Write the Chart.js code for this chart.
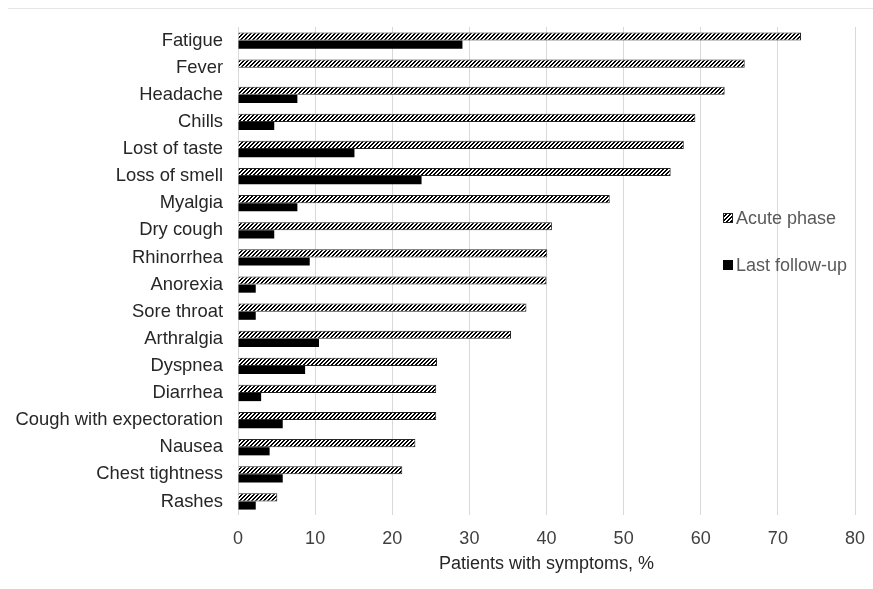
<!DOCTYPE html>
<html>
<head>
<meta charset="utf-8">
<script src="https://cdn.jsdelivr.net/npm/chart.js@4.4.1/dist/chart.umd.min.js"></script>
<style>
  html, body { margin: 0; padding: 0; background: #fff; }
  #wrap { position: relative; width: 873px; height: 589px; }
  #topline { position: absolute; left: 8px; right: 0; top: 8px; height: 0; border-top: 1px solid #e6e6e6; }
  canvas { position: absolute; left: 0; top: 0; }
</style>
</head>
<body>
<div id="wrap">
  <div id="topline"></div>
  <canvas id="c" width="873" height="589"></canvas>
</div>
<script>
const categories = ["Fatigue", "Fever", "Headache", "Chills", "Lost of taste", "Loss of smell",
  "Myalgia", "Dry cough", "Rhinorrhea", "Anorexia", "Sore throat", "Arthralgia",
  "Dyspnea", "Diarrhea", "Cough with expectoration", "Nausea", "Chest tightness", "Rashes"];
const acutePhase = [73.0, 65.7, 63.1, 59.3, 57.8, 56.1, 48.2, 40.7, 40.1, 40.0, 37.4, 35.4,
  25.8, 25.7, 25.7, 23.0, 21.3, 5.1];
const lastFollowUp = [29.1, 0, 7.7, 4.7, 15.1, 23.8, 7.7, 4.7, 9.3, 2.3, 2.3, 10.5,
  8.7, 3.0, 5.8, 4.1, 5.8, 2.3];
const seriesNames = ["Acute phase", "Last follow-up"];
const xTicks = [0, 10, 20, 30, 40, 50, 60, 70, 80];
const xTitle = "Patients with symptoms, %";

const FONT = "'Liberation Sans', Arial, sans-serif";

function makeHatch() {
  const t = document.createElement('canvas');
  t.width = 4; t.height = 4;
  const g = t.getContext('2d');
  g.fillStyle = '#ffffff';
  g.fillRect(0, 0, 4, 4);
  g.fillStyle = '#000000';
  for (let y = 0; y < 4; y++) {
    const a = (3 - y + 4) % 4;
    const b = (4 - y) % 4;
    g.fillRect(a, y, 1, 1);
    g.fillRect(b, y, 1, 1);
  }
  return g.createPattern(t, 'repeat');
}
const hatch = makeHatch();

const legendPlugin = {
  id: 'customLegend',
  afterDraw(chart) {
    const ctx = chart.ctx;
    const items = [
      { label: seriesNames[0], fill: hatch, stroke: '#222' },
      { label: seriesNames[1], fill: '#000', stroke: '#000' }
    ];
    const x0 = 723, ys = [218, 265];
    ctx.save();
    ctx.font = "18px " + FONT;
    ctx.textBaseline = 'middle';
    ctx.textAlign = 'left';
    items.forEach((it, i) => {
      const y = ys[i];
      ctx.fillStyle = it.fill;
      ctx.fillRect(x0, y - 5, 10, 10);
      ctx.strokeStyle = it.stroke;
      ctx.lineWidth = 1;
      ctx.strokeRect(x0 + 0.5, y - 4.5, 9, 9);
      ctx.fillStyle = '#595959';
      ctx.fillText(it.label, x0 + 13, y + 1);
    });
    ctx.restore();
  }
};

new Chart(document.getElementById('c'), {
  type: 'bar',
  data: {
    labels: categories,
    datasets: [
      {
        label: seriesNames[0],
        data: acutePhase,
        backgroundColor: hatch,
        borderColor: '#262626',
        borderWidth: 1,
        categoryPercentage: 0.6,
        barPercentage: 1.0
      },
      {
        label: seriesNames[1],
        data: lastFollowUp,
        backgroundColor: '#000000',
        borderColor: '#000000',
        borderWidth: 0,
        categoryPercentage: 0.6,
        barPercentage: 1.0
      }
    ]
  },
  options: {
    indexAxis: 'y',
    responsive: false,
    animation: false,
    layout: { padding: { left: 0, right: 18, top: 27, bottom: 0 } },
    plugins: {
      legend: { display: false },
      tooltip: { enabled: false }
    },
    scales: {
      x: {
        type: 'linear',
        min: xTicks[0],
        max: xTicks[xTicks.length - 1],
        afterBuildTicks(scale) { scale.ticks = xTicks.map(v => ({ value: v })); },
        afterFit(scale) { scale.height = 74; scale.paddingRight = 0; scale.paddingLeft = 0; },
        grid: { color: '#d9d9d9', lineWidth: 1, drawTicks: false },
        border: { display: false },
        ticks: {
          padding: 13,
          color: '#404040',
          font: { family: FONT, size: 18 }
        },
        title: {
          display: true,
          text: xTitle,
          color: '#262626',
          font: { family: FONT, size: 18 },
          padding: { top: 0, bottom: 14 }
        }
      },
      y: {
        afterFit(scale) { scale.width = 238; },
        grid: { display: false, drawTicks: false },
        border: { display: false },
        ticks: {
          autoSkip: false,
          padding: 15,
          color: '#262626',
          font: { family: FONT, size: 18.4 }
        }
      }
    }
  },
  plugins: [legendPlugin]
});
</script>
</body>
</html>
